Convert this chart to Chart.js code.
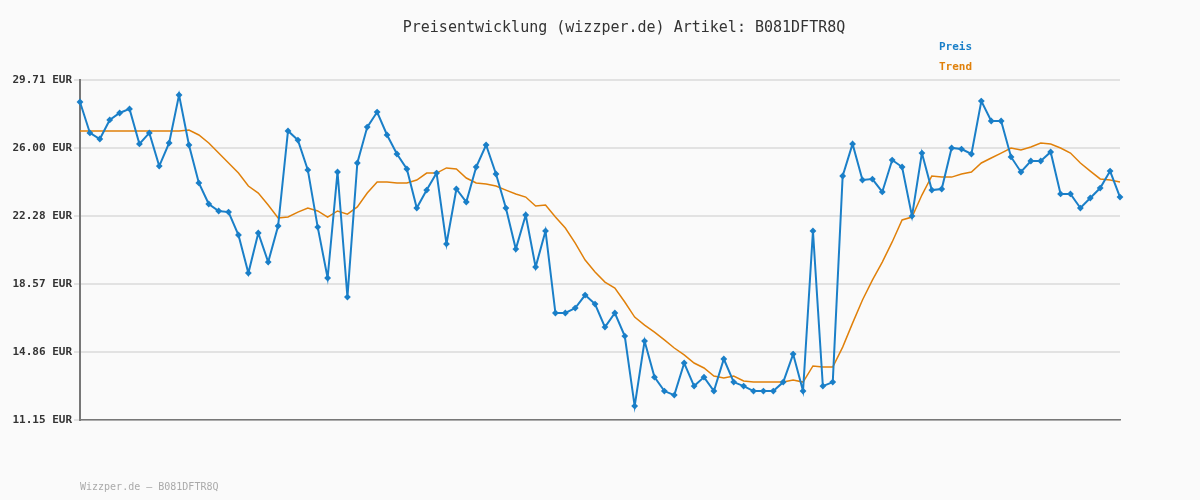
<!DOCTYPE html>
<html><head><meta charset="utf-8">
<script src="https://cdn.jsdelivr.net/npm/chart.js@4/dist/chart.umd.min.js"></script>
<style>html,body{margin:0;padding:0;background:#fafafa;}#w{position:relative;width:1200px;height:500px;}</style>
</head><body><div id="w"><canvas id="c" width="1200" height="500"></canvas></div>
<script>
const preis = [28.51,26.82,26.49,27.53,27.91,28.13,26.22,26.82,25.01,26.27,28.89,26.16,24.09,22.94,22.56,22.50,21.25,19.17,21.36,19.77,21.74,26.93,26.43,24.80,21.68,18.90,24.69,17.86,25.18,27.14,27.96,26.71,25.67,24.85,22.72,23.70,24.63,20.76,23.76,23.05,24.96,26.16,24.58,22.72,20.48,22.34,19.50,21.47,16.99,16.99,17.26,17.97,17.48,16.22,16.99,15.73,11.91,15.46,13.49,12.73,12.51,14.26,13.00,13.49,12.73,14.48,13.22,13.00,12.73,12.73,12.73,13.22,14.75,12.73,21.47,13.00,13.22,24.47,26.22,24.25,24.30,23.60,25.34,24.96,22.28,25.72,23.70,23.76,26.00,25.94,25.67,28.56,27.47,27.47,25.51,24.69,25.29,25.29,25.78,23.49,23.49,22.72,23.27,23.81,24.74,23.32];
const trend = [26.93,26.93,26.93,26.93,26.93,26.93,26.93,26.93,26.93,26.93,26.93,26.98,26.71,26.27,25.72,25.18,24.63,23.92,23.54,22.89,22.18,22.23,22.50,22.72,22.56,22.23,22.56,22.39,22.78,23.54,24.14,24.14,24.09,24.09,24.25,24.63,24.63,24.91,24.85,24.36,24.09,24.03,23.92,23.70,23.49,23.32,22.83,22.89,22.23,21.63,20.81,19.88,19.23,18.68,18.35,17.59,16.77,16.33,15.95,15.52,15.08,14.70,14.26,13.99,13.55,13.44,13.55,13.28,13.22,13.22,13.22,13.22,13.33,13.22,14.10,14.04,14.04,15.13,16.44,17.70,18.79,19.77,20.87,22.07,22.23,23.43,24.47,24.41,24.41,24.58,24.69,25.18,25.45,25.72,26.00,25.89,26.05,26.27,26.22,26.00,25.72,25.18,24.74,24.31,24.25,24.14];
const labels = preis.map((_, i) => i + 1);
const yTicks = [11.15, 14.86, 18.57, 22.28, 26.00, 29.71];
const title = 'Preisentwicklung (wizzper.de) Artikel: B081DFTR8Q';
const footer = 'Wizzper.de – B081DFTR8Q';
const font = '"DejaVu Sans Mono", monospace';

const textPlugin = {
  id: 'txt',
  afterDraw(chart) {
    const ctx = chart.ctx;
    ctx.save();
    ctx.textBaseline = 'middle';
    ctx.font = '15px ' + font;
    ctx.fillStyle = '#333';
    ctx.textAlign = 'center';
    ctx.fillText(title, 624, 28);
    ctx.textAlign = 'left';
    ctx.font = 'bold 11px ' + font;
    ctx.fillStyle = '#1a7fc8';
    ctx.fillText('Preis', 939, 47);
    ctx.fillStyle = '#e0800a';
    ctx.fillText('Trend', 939, 67);
    ctx.font = '10px ' + font;
    ctx.fillStyle = '#aaa';
    ctx.fillText(footer, 80, 487);
    ctx.restore();
  }
};

new Chart(document.getElementById('c'), {
  type: 'line',
  data: { labels, datasets: [
    { label: 'Trend', data: trend, borderColor: '#e0800a', borderWidth: 1.5, pointRadius: 0, tension: 0, order: 2 },
    { label: 'Preis', data: preis, borderColor: '#1a7fc8', backgroundColor: '#1a7fc8', borderWidth: 2, pointRadius: 2, pointStyle: 'rectRot', tension: 0, order: 1 }
  ]},
  options: {
    responsive: false, animation: false,
    layout: { padding: { left: 0, top: 80, right: 80, bottom: 80 } },
    plugins: { legend: { display: false }, tooltip: { enabled: false } },
    scales: {
      x: { offset: false, grid: { display: false }, ticks: { display: false },
           border: { display: true, color: '#777', width: 1.5 },
           afterFit(s) { s.height = 0; } },
      y: { min: 11.15, max: 29.71,
           afterBuildTicks(s) { s.ticks = yTicks.map(v => ({ value: v })); },
           afterFit(s) { s.width = 80; },
           grid: { color: '#e2e2e2', lineWidth: 2, drawTicks: true, tickLength: 6, tickColor: '#e2e2e2' },
           border: { display: true, color: '#777', width: 2 },
           ticks: { padding: 2, color: '#333', font: { family: font, size: 11, weight: 'bold' },
                    callback: v => v.toFixed(2) + ' EUR' } }
    }
  },
  plugins: [textPlugin]
});
</script></body></html>
